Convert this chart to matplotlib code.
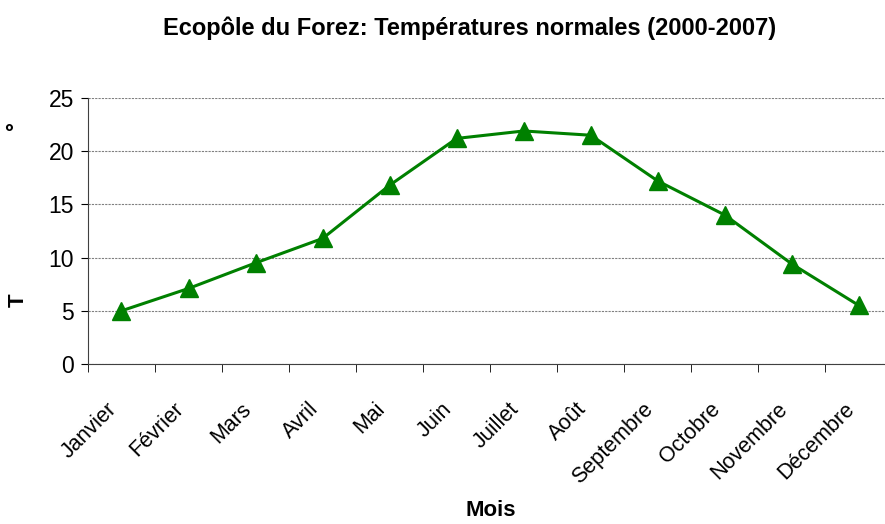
import numpy as np
import matplotlib.pyplot as plt
from matplotlib.transforms import ScaledTranslation

plt.rcParams['font.family'] = ['Liberation Sans', 'DejaVu Sans']

# Données
mois = ['Janvier', 'Février', 'Mars', 'Avril', 'Mai', 'Juin', 'Juillet',
        'Août', 'Septembre', 'Octobre', 'Novembre', 'Décembre']
temperatures = [5.0, 7.1, 9.5, 11.8, 16.8, 21.2, 21.9, 21.5, 17.2, 14.0, 9.4, 5.5]
y_ticks = [0, 5, 10, 15, 20, 25]

fig = plt.figure(figsize=(8.85, 5.24), dpi=100)
ax = fig.add_axes([0.0994, 0.3053, 0.909, 0.5077])

x = np.arange(len(mois))
ax.plot(x, temperatures, color='#008000', linewidth=2.2, marker='^',
        markersize=13, zorder=3)

ax.set_xlim(-0.5, len(mois) - 0.5)
ax.set_ylim(0, 25)
ax.set_yticks(y_ticks)
ax.tick_params(axis='y', labelsize=16.5, length=5, direction='out', pad=5)

ax.set_xticks(x)
ax.set_xticklabels(mois, rotation=45, ha='right', rotation_mode='anchor', fontsize=15.5)
ax.tick_params(axis='x', which='major', length=0, pad=25)
ax.set_xticks(np.arange(-0.5, len(mois), 1), minor=True)
ax.tick_params(axis='x', which='minor', length=6, direction='out')
decal = ScaledTranslation(-0.15, 0, fig.dpi_scale_trans)
for lab in ax.get_xticklabels():
    lab.set_transform(lab.get_transform() + decal)

ax.grid(axis='y', linestyle=(0, (2, 1)), color='#808080', linewidth=0.8)
ax.set_axisbelow(True)
for s in ['top', 'right']:
    ax.spines[s].set_visible(False)
ax.spines['left'].set_color('#404040')
ax.spines['bottom'].set_color('#404040')

fig.text(0.531, 0.946, 'Ecopôle du Forez: Températures normales (2000-2007)',
         ha='center', va='center', fontsize=17, fontweight='bold')
fig.text(0.554, 0.026, 'Mois', ha='center', va='center', fontsize=16, fontweight='bold')
fig.text(0.021, 0.428, 'T', ha='center', va='center', fontsize=16,
         fontweight='bold', rotation=90)
fig.text(0.019, 0.76, '°', ha='center', va='center', fontsize=16,
         fontweight='bold', rotation=90)

fig.savefig('out.png', dpi=100)
